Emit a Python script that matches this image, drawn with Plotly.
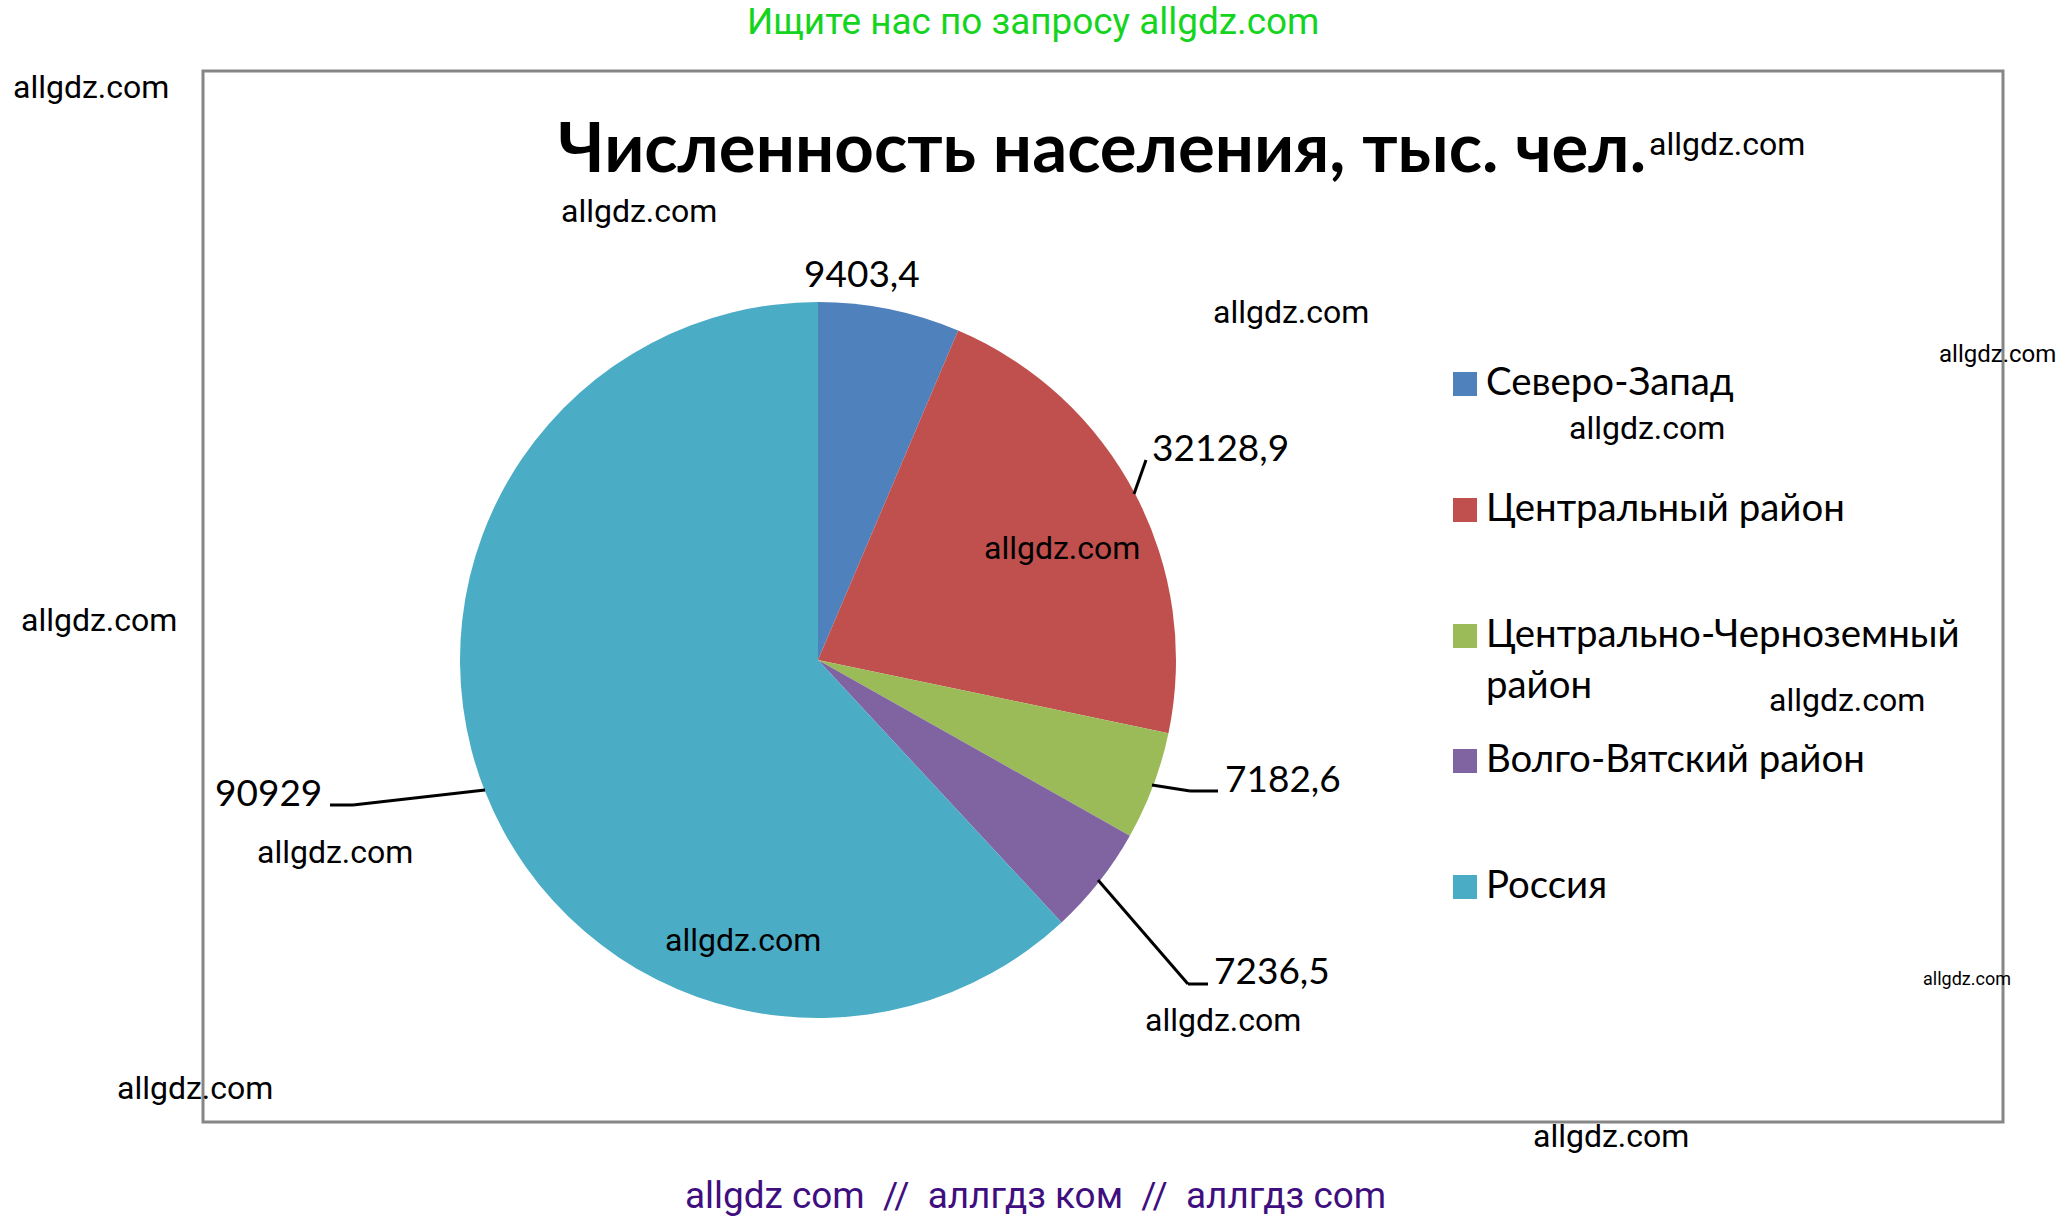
import plotly.graph_objects as go

W = 2069
H = 1220

regions = ["Северо-Запад", "Центральный район", "Центрально-Черноземный<br>район", "Волго-Вятский район", "Россия"]
population = [9403.4, 32128.9, 7182.6, 7236.5, 90929]
colors = ["#4F81BD", "#C0504D", "#9BBB59", "#8064A2", "#4BACC6"]

title_text = "Численность населения, тыс. чел."
top_text = "Ищите нас по запросу allgdz.com"
bottom_text = "allgdz com  //  аллгдз ком  //  аллгдз com"
mark_text = "allgdz.com"

# left edge, middle, font px
marks = [
    (11, 87, 32), (559, 211, 32), (1647, 144, 32), (1211, 312, 32),
    (1937, 354, 24), (1567, 428, 32), (982, 548, 32), (19, 620, 32),
    (255, 852, 32), (663, 940, 32), (115, 1088, 32), (1767, 700, 32),
    (1921, 978, 18), (1143, 1020, 32), (1531, 1136, 32),
]
label_pos = [(802, 272), (1150, 446), (1223, 778), (1212, 969), (213, 791)]
leaders = [
    [(1134, 494), (1146, 460)],
    [(1152, 785), (1190, 791), (1218, 791)],
    [(1098, 880), (1188, 984), (1208, 984)],
    [(485, 790), (353, 805), (330, 805)],
]
legend_y = [380, 506, 632, 757, 883]
legend_box_y = [384, 510, 636, 761, 887]

cx, cy, r = 818, 660, 358


def fx(v):
    return v / W


def fy(v):
    return 1 - v / H


def note(x, y, text, size, color="#000000", font="Roboto", anchor="left"):
    return dict(x=fx(x), y=fy(y), xref="paper", yref="paper", text=text, showarrow=False,
                xanchor=anchor, yanchor="middle", align="left",
                font=dict(family=font, size=size, color=color))


fig = go.Figure(go.Pie(
    labels=regions,
    values=population,
    sort=False,
    direction="clockwise",
    rotation=0,
    textinfo="none",
    marker=dict(colors=colors, line=dict(width=0)),
    domain=dict(x=[fx(cx - r), fx(cx + r)], y=[fy(cy + r), fy(cy - r)]),
    showlegend=False,
))

shapes = [dict(type="rect", xref="paper", yref="paper", x0=fx(203), x1=fx(2003), y0=fy(1122), y1=fy(71),
               line=dict(color="#868686", width=3), layer="below")]
for pts in leaders:
    for a, b in zip(pts[:-1], pts[1:]):
        shapes.append(dict(type="line", xref="paper", yref="paper", x0=fx(a[0]), y0=fy(a[1]),
                           x1=fx(b[0]), y1=fy(b[1]), line=dict(color="#000000", width=3)))
for y, c in zip(legend_box_y, colors):
    shapes.append(dict(type="rect", xref="paper", yref="paper", x0=fx(1453), x1=fx(1477),
                       y0=fy(y + 12), y1=fy(y - 12), fillcolor=c, line=dict(width=0)))

notes = [
    note(745, 21, top_text, 36.9, "#14D41E"),
    note(683, 1195, bottom_text, 36.9, "#3F0F7F"),
    note(556, 146, "<b>" + title_text + "</b>", 69, font="Lato"),
]
for (x, y), v in zip(label_pos, population):
    notes.append(note(x, y, str(v).replace(".", ","), 37, font="Lato"))
for y, name in zip(legend_y, regions):
    if "<br>" in name:
        first, second = name.split("<br>")
        notes.append(note(1484, y, first, 38.4, font="Lato"))
        notes.append(note(1484, y + 51, second, 38.4, font="Lato"))
    else:
        notes.append(note(1484, y, name, 38.4, font="Lato"))
for x, y, s in marks:
    notes.append(note(x, y, mark_text, s))

fig.update_layout(
    width=W,
    height=H,
    margin=dict(l=0, r=0, t=0, b=0),
    paper_bgcolor="#FFFFFF",
    shapes=shapes,
    annotations=notes,
)

fig.write_html("out.html", config={"displayModeBar": False}, post_script="document.body.style.margin='0';")
